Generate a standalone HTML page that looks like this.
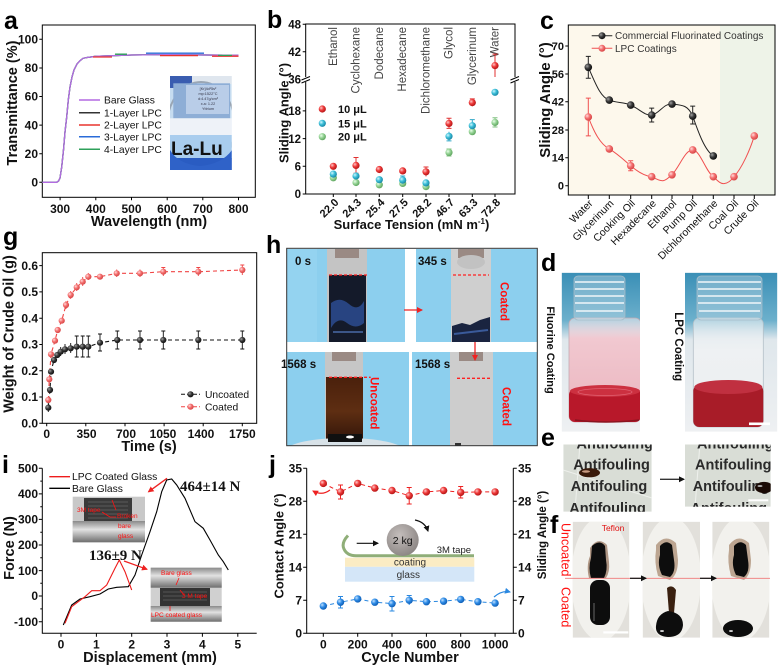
<!DOCTYPE html>
<html><head><meta charset="utf-8">
<style>
html,body{margin:0;padding:0;background:#fff;}
svg{display:block;}
text{font-family:"Liberation Sans",Arial,sans-serif;}
.tk{font-size:12px;font-weight:bold;fill:#111;}
.tkb{font-size:11.5px;font-weight:bold;fill:#111;}
.tkc{font-size:11px;font-weight:bold;fill:#111;}
.ti{font-size:14.5px;font-weight:bold;fill:#111;}
.pl{font-size:25px;font-weight:bold;fill:#000;}
.lg{font-size:10.3px;fill:#111;}
.serif{font-family:"Liberation Serif","Times New Roman",serif;}
</style></head>
<body>
<svg width="779" height="668" viewBox="0 0 779 668" xmlns="http://www.w3.org/2000/svg">
<defs>
<radialGradient id="sR" cx="35%" cy="35%" r="65%"><stop offset="0" stop-color="#ffc8c8"/><stop offset="0.5" stop-color="#ee3a3a"/><stop offset="1" stop-color="#b81818"/></radialGradient>
<radialGradient id="sC" cx="35%" cy="35%" r="65%"><stop offset="0" stop-color="#d0f6ff"/><stop offset="0.5" stop-color="#3cbfd8"/><stop offset="1" stop-color="#1c8aa8"/></radialGradient>
<radialGradient id="sG" cx="35%" cy="35%" r="65%"><stop offset="0" stop-color="#eaffea"/><stop offset="0.5" stop-color="#96d496"/><stop offset="1" stop-color="#62a862"/></radialGradient>
<radialGradient id="sK" cx="35%" cy="35%" r="65%"><stop offset="0" stop-color="#a0a0a0"/><stop offset="0.5" stop-color="#3a3a3a"/><stop offset="1" stop-color="#111"/></radialGradient>
<radialGradient id="sP" cx="35%" cy="35%" r="65%"><stop offset="0" stop-color="#ffdcdc"/><stop offset="0.5" stop-color="#f47070"/><stop offset="1" stop-color="#d84848"/></radialGradient>
<radialGradient id="sB" cx="35%" cy="35%" r="65%"><stop offset="0" stop-color="#c0e0ff"/><stop offset="0.5" stop-color="#2f8ce6"/><stop offset="1" stop-color="#1060b8"/></radialGradient>
<radialGradient id="sW" cx="40%" cy="35%" r="70%"><stop offset="0" stop-color="#c4bebc"/><stop offset="1" stop-color="#8a8482"/></radialGradient>
<linearGradient id="brown" x1="0" y1="0" x2="0" y2="1"><stop offset="0" stop-color="#4a200c"/><stop offset="0.5" stop-color="#5e2e12"/><stop offset="1" stop-color="#2a1008"/></linearGradient>
<linearGradient id="teal" x1="0" y1="0" x2="0" y2="1"><stop offset="0" stop-color="#3a8fb6"/><stop offset="0.3" stop-color="#6cb0cc"/><stop offset="0.42" stop-color="#dfe7ec"/><stop offset="1" stop-color="#eef0f2"/></linearGradient>
<linearGradient id="pink" x1="0" y1="0" x2="0" y2="1"><stop offset="0" stop-color="#e4e8ee" stop-opacity="0.6"/><stop offset="0.2" stop-color="#f1c8d0"/><stop offset="1" stop-color="#eab4be"/></linearGradient>
<linearGradient id="clear" x1="0" y1="0" x2="0" y2="1"><stop offset="0" stop-color="#e4ecf0" stop-opacity="0.6"/><stop offset="0.3" stop-color="#eef1f3"/><stop offset="1" stop-color="#ebeef0"/></linearGradient>
<linearGradient id="metal" x1="0" y1="0" x2="0" y2="1"><stop offset="0" stop-color="#8a8a8a"/><stop offset="0.4" stop-color="#e2e2e2"/><stop offset="1" stop-color="#6e6e6e"/></linearGradient>
<marker id="ahR" markerWidth="6" markerHeight="6" refX="5" refY="3" orient="auto" markerUnits="userSpaceOnUse"><path d="M0,0 L6,3 L0,6z" fill="#ee2222"/></marker>
<marker id="ahK" markerWidth="6" markerHeight="6" refX="5" refY="3" orient="auto" markerUnits="userSpaceOnUse"><path d="M0,0 L6,3 L0,6z" fill="#111"/></marker>
<marker id="ahB" markerWidth="6" markerHeight="6" refX="5" refY="3" orient="auto" markerUnits="userSpaceOnUse"><path d="M0,0 L6,3 L0,6z" fill="#2a88e0"/></marker>
<clipPath id="cA"><rect x="170" y="76" width="61.7" height="94"/></clipPath>
<clipPath id="cE1"><rect x="563.3" y="444.5" width="88.4" height="67.2"/></clipPath>
<clipPath id="cE2"><rect x="685" y="444.5" width="85.7" height="62.2"/></clipPath>
<clipPath id="cBL"><rect x="287" y="352" width="122" height="94"/></clipPath>
<clipPath id="cF1"><rect x="572.7" y="521.7" width="56.6" height="116"/></clipPath>
<clipPath id="cF2"><rect x="642.7" y="521.7" width="57.3" height="116"/></clipPath>
<clipPath id="cF3"><rect x="712.3" y="521.7" width="57" height="116"/></clipPath>
<clipPath id="cD1"><rect x="561.7" y="272.7" width="78.3" height="159"/></clipPath>
<clipPath id="cD2"><rect x="685" y="272.7" width="92.3" height="159"/></clipPath>
</defs>

<!-- ================= PANEL A ================= -->
<text class="pl" x="4" y="29">a</text>
<rect x="42.3" y="25" width="213" height="172.3" fill="none" stroke="#000" stroke-width="1"/>
<g stroke="#000" stroke-width="1">
<path d="M39.3,39.3h3 M39.3,68h3 M39.3,96.5h3 M39.3,125.1h3 M39.3,153.7h3 M39.3,182.3h3"/>
<path d="M60.1,197.3v3 M95.8,197.3v3 M131.5,197.3v3 M167.2,197.3v3 M202.8,197.3v3 M238.5,197.3v3"/>
</g>
<g class="tk" text-anchor="end">
<text x="38" y="43.5">100</text><text x="38" y="72.2">80</text><text x="38" y="100.7">60</text><text x="38" y="129.3">40</text><text x="38" y="157.9">20</text><text x="38" y="186.5">0</text>
</g>
<g class="tk" text-anchor="middle">
<text x="60.1" y="213">300</text><text x="95.8" y="213">400</text><text x="131.5" y="213">500</text><text x="167.2" y="213">600</text><text x="202.8" y="213">700</text><text x="238.5" y="213">800</text>
</g>
<text class="ti" x="149" y="226" text-anchor="middle">Wavelength (nm)</text>
<text class="ti" transform="translate(17,103) rotate(-90)" text-anchor="middle">Transmittance (%)</text>
<g fill="none" stroke-width="1.3">
<polyline stroke="#333" points="42.3,182.3 56.6,182.3 58.5,181 60,178 61.7,167 63.5,150 65,132 66.7,117 68.3,100 70,87 72,77 74,70 77,64 80,60.7 83,58.3 87,57.5 95.8,56.3 131.5,55 167.2,54.6 238.5,55.3"/>
<polyline stroke="#2ea05a" points="42.3,182.3 56.6,182.3 58.5,181 60,178 61.7,167 63.5,150 65,132 66.7,117 68.3,100 70,87 72,77 74,70 77,64 80,60.7 83,58.3 87,57.5 95.8,56.3 131.5,55 167.2,54.6 238.5,55.3"/>
<polyline stroke="#b36ae2" points="42.3,182.3 56.6,182.3 58.5,181 60,178 61.7,167 63.5,150 65,132 66.7,117 68.3,100 70,87 72,77 74,70 77,64 80,60.7 83,58.3 87,57.5 95.8,56.3 131.5,55 167.2,54.6 238.5,55.3"/>
<path stroke="#e8352e" d="M93,57 H112 M160,55.6 H198 M212,56.2 H238.5"/>
<path stroke="#2ea05a" d="M115,54.2 H127 M218,55.4 H232"/>
<path stroke="#2a6bd8" d="M146,53.2 H204"/>
</g>
<g stroke-width="1.5">
<line x1="79" y1="100" x2="100" y2="100" stroke="#b36ae2"/>
<line x1="79" y1="112.7" x2="100" y2="112.7" stroke="#333"/>
<line x1="79" y1="125" x2="100" y2="125" stroke="#e8352e"/>
<line x1="79" y1="136.7" x2="100" y2="136.7" stroke="#2a6bd8"/>
<line x1="79" y1="149.3" x2="100" y2="149.3" stroke="#2ea05a"/>
</g>
<g class="lg" font-size="10.5">
<text x="104" y="103.7">Bare Glass</text><text x="104" y="116.4">1-Layer LPC</text><text x="104" y="128.7">2-Layer LPC</text><text x="104" y="140.4">3-Layer LPC</text><text x="104" y="153">4-Layer LPC</text>
</g>
<g clip-path="url(#cA)">
<rect x="170" y="76" width="61.7" height="94" fill="#c6dcf0"/>
<rect x="170" y="76" width="22" height="12" fill="#3a5db0"/>
<rect x="192" y="76" width="40" height="8" fill="#dfe6ee"/>
<ellipse cx="201" cy="126" rx="34" ry="44" fill="none" stroke="#9aa6b4" stroke-width="2"/>
<rect x="173.3" y="83.3" width="56.7" height="35" fill="#8eaed6"/>
<rect x="186" y="85" width="43" height="29" fill="#b9cde8"/>
<g font-size="3.8" fill="#334" text-anchor="middle">
<text x="208" y="90">[Kr]4d¹5s²</text><text x="208" y="95">mp:1522°C</text><text x="208" y="100">d:4.47g/cm³</text><text x="208" y="105">x.a: 1.22</text><text x="208" y="110">Yttrium</text>
</g>
<rect x="170" y="118.3" width="62" height="17" fill="#eef2f8"/>
<rect x="170" y="135" width="62" height="24" fill="#a9cdee"/>
<text x="171" y="155" font-size="19" font-weight="bold" fill="#111">La-Lu</text>
<rect x="170" y="158" width="62" height="12" fill="#2a5cc2"/>
<path d="M170,150 Q178,164 200,166 Q222,164 232,150 V170 H170z" fill="#2f62c8"/>
</g>

<!-- ================= PANEL B ================= -->
<text class="pl" x="267" y="28">b</text>
<rect x="305.7" y="24" width="209.3" height="170" fill="none" stroke="#000" stroke-width="1"/>
<g stroke="#000" stroke-width="1">
<path d="M302.7,24.3h3 M302.7,51.8h3 M302.7,79.3h3 M302.7,110.9h3 M302.7,138.6h3 M302.7,166.3h3 M302.7,194h3"/>
<path d="M333.3,194v3 M356,194v3 M379.3,194v3 M402.7,194v3 M426,194v3 M449,194v3 M472.3,194v3 M495,194v3"/>
</g>
<rect x="302" y="77" width="8" height="5" fill="#fff"/>
<rect x="511" y="77" width="8" height="5" fill="#fff"/>
<path d="M301.5,80 L310,76.5 M301.5,83 L310,79.5 M510.5,80 L519,76.5 M510.5,83 L519,79.5" stroke="#000" stroke-width="1"/>
<g class="tkb" text-anchor="end">
<text x="301" y="28.5">48</text><text x="301" y="56">42</text><text x="301" y="83.5">36</text><text x="301" y="115">18</text><text x="301" y="142.8">12</text><text x="301" y="170.5">6</text><text x="301" y="198">0</text>
</g>
<g class="tkc" text-anchor="end">
<text transform="translate(339.3,203) rotate(-45)">22.0</text>
<text transform="translate(362,203) rotate(-45)">24.3</text>
<text transform="translate(385.3,203) rotate(-45)">25.4</text>
<text transform="translate(408.7,203) rotate(-45)">27.5</text>
<text transform="translate(432,203) rotate(-45)">28.2</text>
<text transform="translate(455,203) rotate(-45)">46.7</text>
<text transform="translate(478.3,203) rotate(-45)">63.3</text>
<text transform="translate(501,203) rotate(-45)">72.8</text>
</g>
<text x="411.5" y="229" text-anchor="middle" font-size="13" font-weight="bold" fill="#111">Surface Tension (mN m<tspan dy="-5" font-size="8">-1</tspan><tspan dy="5">)</tspan></text>
<text transform="translate(288.5,113) rotate(-90)" text-anchor="middle" font-size="13" font-weight="bold" fill="#111">Sliding Angle (°)</text>
<g font-size="11.5" fill="#444" text-anchor="end">
<text transform="translate(336.8,27) rotate(-90)">Ethanol</text>
<text transform="translate(359.5,27) rotate(-90)">Cyclohexane</text>
<text transform="translate(382.8,27) rotate(-90)">Dodecane</text>
<text transform="translate(406.2,27) rotate(-90)">Hexadecane</text>
<text transform="translate(429.5,27) rotate(-90)">Dichloromethane</text>
<text transform="translate(452.5,27) rotate(-90)">Glycol</text>
<text transform="translate(475.8,27) rotate(-90)">Glycerinum</text>
<text transform="translate(498.5,27) rotate(-90)">Water</text>
</g>
<g stroke-width="1" fill="none">
<path stroke="#e03030" d="M356,157.5V173.2 M353.5,157.5h5 M353.5,173.2h5 M426,167V176.4 M423.5,167h5 M449,118.3V128.4 M446.5,118.3h5 M446.5,128.4h5 M472.3,98.9V106.3 M469.8,98.9h5 M495,54.1V77 M492.5,54.1h5"/>
<path stroke="#30a8c8" d="M402.7,176V184 M400.2,176h5 M449,131.7V140.9 M446.5,140.9h5 M472.3,119.6V131.7 M469.8,119.6h5"/>
<path stroke="#80c080" d="M449,149V156 M446.5,149h5 M446.5,156h5 M495,117.8V127 M492.5,117.8h5 M492.5,127h5"/>
</g>
<g>
<circle cx="333.3" cy="177.8" r="3.6" fill="url(#sG)"/><circle cx="356" cy="182.5" r="3.6" fill="url(#sG)"/><circle cx="379.3" cy="184.8" r="3.6" fill="url(#sG)"/><circle cx="402.7" cy="183.4" r="3.6" fill="url(#sG)"/><circle cx="426" cy="186.6" r="3.6" fill="url(#sG)"/><circle cx="449" cy="152.4" r="3.6" fill="url(#sG)"/><circle cx="472.3" cy="131.7" r="3.6" fill="url(#sG)"/><circle cx="495" cy="122.4" r="3.6" fill="url(#sG)"/>
<circle cx="333.3" cy="174.1" r="3.6" fill="url(#sC)"/><circle cx="356" cy="176" r="3.6" fill="url(#sC)"/><circle cx="379.3" cy="179.7" r="3.6" fill="url(#sC)"/><circle cx="402.7" cy="180.1" r="3.6" fill="url(#sC)"/><circle cx="426" cy="182.9" r="3.6" fill="url(#sC)"/><circle cx="449" cy="136.3" r="3.6" fill="url(#sC)"/><circle cx="472.3" cy="125.7" r="3.6" fill="url(#sC)"/><circle cx="495" cy="92.3" r="3.6" fill="url(#sC)"/>
<circle cx="333.3" cy="166.3" r="3.6" fill="url(#sR)"/><circle cx="356" cy="165.4" r="3.6" fill="url(#sR)"/><circle cx="379.3" cy="169.5" r="3.6" fill="url(#sR)"/><circle cx="402.7" cy="170.9" r="3.6" fill="url(#sR)"/><circle cx="426" cy="171.8" r="3.6" fill="url(#sR)"/><circle cx="449" cy="123.4" r="3.6" fill="url(#sR)"/><circle cx="472.3" cy="102.6" r="3.6" fill="url(#sR)"/><circle cx="495" cy="65.6" r="3.6" fill="url(#sR)"/>
</g>
<circle cx="322.3" cy="109" r="3.6" fill="url(#sR)"/><circle cx="322.3" cy="123.3" r="3.6" fill="url(#sC)"/><circle cx="322.3" cy="136.7" r="3.6" fill="url(#sG)"/>
<g font-size="11" font-weight="bold" fill="#111">
<text x="338" y="113">10 μL</text><text x="338" y="127.3">15 μL</text><text x="338" y="140.7">20 μL</text>
</g>

<!-- ================= PANEL C ================= -->
<text class="pl" x="540" y="29">c</text>
<rect x="568.3" y="25" width="151.7" height="170" fill="#fdf8ec"/>
<rect x="720" y="25" width="55" height="170" fill="#eef3e8"/>
<rect x="568.3" y="25" width="206.7" height="170" fill="none" stroke="#000" stroke-width="1"/>
<g stroke="#000" stroke-width="1">
<path d="M565.3,46h3 M565.3,74h3 M565.3,101.7h3 M565.3,130h3 M565.3,157.7h3 M565.3,185.7h3"/>
<path d="M588.3,195v4 M609.3,195v4 M630.7,195v4 M651.7,195v4 M672,195v4 M692.7,195v4 M713.3,195v4 M734,195v4 M754.3,195v4"/>
</g>
<g class="tkc" text-anchor="end">
<text x="564" y="50">70</text><text x="564" y="78">56</text><text x="564" y="105.7">42</text><text x="564" y="134">28</text><text x="564" y="161.7">14</text><text x="564" y="189.7">0</text>
</g>
<g font-size="10.5" fill="#111" text-anchor="end">
<text transform="translate(593.3,204) rotate(-45)">Water</text>
<text transform="translate(614.3,204) rotate(-45)">Glycerinum</text>
<text transform="translate(635.7,204) rotate(-45)">Cooking Oil</text>
<text transform="translate(656.7,204) rotate(-45)">Hexadecane</text>
<text transform="translate(677,204) rotate(-45)">Ethanol</text>
<text transform="translate(697.7,204) rotate(-45)">Pump Oil</text>
<text transform="translate(718.3,204) rotate(-45)">Dichloromethane</text>
<text transform="translate(739,204) rotate(-45)">Coal Oil</text>
<text transform="translate(759.3,204) rotate(-45)">Crude Oil</text>
</g>
<text transform="translate(550,100) rotate(-90)" text-anchor="middle" font-size="15" font-weight="bold" fill="#111">Sliding Angle (°)</text>
<path fill="none" stroke="#222" stroke-width="1" d="M588.3,67.3 C595,82 600,97 609.3,100.1 C616,103 624,102 630.7,105.1 C638,108 645,116 651.7,115.1 C659,114 664,103 672,104.1 C682,105 688,105 692.7,116.1 C697,128 704,150 713.3,155.9"/>
<path fill="none" stroke="#f05050" stroke-width="1" d="M588.3,117 C594,132 600,144 609.3,148.9 C618,154 624,160 630.7,165.8 C638,172 645,176 651.7,176.7 C656,179 660,181 663,180.8 C667,180 669,177 672,174.8 C680,166 685,150 692.7,149.9 C700,150 706,172 713.3,176.7 C717,180 720,184 724,183.6 C729,183 731,180 734,176.7 C742,168 750,150 754.3,135.95"/>
<path fill="none" stroke="#222" stroke-width="1" d="M588.3,56.4V78.2 M585.8,56.4h5 M585.8,78.2h5 M630.7,102V108 M651.7,108.1V122 M649.2,108.1h5 M649.2,122h5 M692.7,106.1V124 M690.2,106.1h5 M690.2,124h5"/>
<path fill="none" stroke="#f05050" stroke-width="1" d="M588.3,98.1V135.9 M585.8,98.1h5 M585.8,135.9h5 M630.7,160.8V170.8 M628.2,160.8h5 M628.2,170.8h5"/>
<g>
<circle cx="588.3" cy="67.3" r="3.8" fill="url(#sK)"/><circle cx="609.3" cy="100.1" r="3.8" fill="url(#sK)"/><circle cx="630.7" cy="105.1" r="3.8" fill="url(#sK)"/><circle cx="651.7" cy="115.1" r="3.8" fill="url(#sK)"/><circle cx="672" cy="104.1" r="3.8" fill="url(#sK)"/><circle cx="692.7" cy="116.1" r="3.8" fill="url(#sK)"/><circle cx="713.3" cy="155.9" r="3.8" fill="url(#sK)"/>
<circle cx="588.3" cy="117" r="3.8" fill="url(#sP)"/><circle cx="609.3" cy="148.9" r="3.8" fill="url(#sP)"/><circle cx="630.7" cy="165.8" r="3.8" fill="url(#sP)"/><circle cx="651.7" cy="176.7" r="3.8" fill="url(#sP)"/><circle cx="672" cy="174.8" r="3.8" fill="url(#sP)"/><circle cx="692.7" cy="149.9" r="3.8" fill="url(#sP)"/><circle cx="713.3" cy="176.7" r="3.8" fill="url(#sP)"/><circle cx="734" cy="176.7" r="3.8" fill="url(#sP)"/><circle cx="754.3" cy="135.95" r="3.8" fill="url(#sP)"/>
</g>
<line x1="591.7" y1="35.7" x2="612.3" y2="35.7" stroke="#222" stroke-width="1"/><circle cx="602" cy="35.7" r="3.5" fill="url(#sK)"/>
<line x1="591.7" y1="48.3" x2="612.3" y2="48.3" stroke="#f05050" stroke-width="1"/><circle cx="602" cy="48.3" r="3.5" fill="url(#sP)"/>
<g font-size="10" fill="#333">
<text x="615" y="39.2">Commercial Fluorinated Coatings</text><text x="615" y="51.8">LPC Coatings</text>
</g>

<!-- ================= PANEL G ================= -->
<text class="pl" x="3" y="245">g</text>
<rect x="42.3" y="252.7" width="214.4" height="170.6" fill="none" stroke="#000" stroke-width="1"/>
<g stroke="#000" stroke-width="1">
<path d="M39.3,265.6h3 M39.3,291.9h3 M39.3,318.2h3 M39.3,344.5h3 M39.3,370.7h3 M39.3,397h3 M39.3,423.3h3"/>
<path d="M46.7,423.3v3 M85.8,423.3v3 M125,423.3v3 M164.1,423.3v3 M203.2,423.3v3 M242.3,423.3v3"/>
</g>
<g class="tk" text-anchor="end">
<text x="38" y="269.8">0.6</text><text x="38" y="296.1">0.5</text><text x="38" y="322.4">0.4</text><text x="38" y="348.7">0.3</text><text x="38" y="374.9">0.2</text><text x="38" y="401.2">0.1</text><text x="38" y="427.5">0.0</text>
</g>
<g class="tk" text-anchor="middle">
<text x="46.7" y="438">0</text><text x="86.5" y="438">350</text><text x="126" y="438">700</text><text x="163" y="438">1050</text><text x="201" y="438">1400</text><text x="242.3" y="438">1750</text>
</g>
<text class="ti" x="149" y="451" text-anchor="middle">Time (s)</text>
<text class="ti" transform="translate(13.5,334) rotate(-90)" text-anchor="middle">Weight of Crude Oil (g)</text>
<polyline fill="none" stroke="#111" stroke-width="1.1" stroke-dasharray="4,3" points="48.3,407.7 50,390 51,371.7 54,360 57.3,355 60.7,351.7 65,349.3 70.7,348.3 76.7,346.7 82.7,346.7 88.3,346.7 100,342.7 117.3,340 140,340 163.3,340 198.3,340 242.3,340"/>
<polyline fill="none" stroke="#f04545" stroke-width="1.1" stroke-dasharray="4,3" points="48.3,400 49.3,379.3 51,354.3 55,340.7 57.7,330 61.7,320.7 66,305 70.7,295 76.7,287.3 82.7,281.7 88.3,276.7 100,276.7 116.7,273.3 140,273.3 163.3,271.7 198.3,271.7 242.3,270"/>
<path fill="none" stroke="#111" stroke-width="0.9" d="M48.3,403V412 M60.7,347V356 M65,344V354 M70.7,343V353 M76.7,336V357 M74.7,336h4 M74.7,357h4 M82.7,336V357 M80.7,336h4 M80.7,357h4 M88.3,336V357 M86.3,336h4 M86.3,357h4 M100,334V351 M98,334h4 M98,351h4 M117.3,331V349 M115.3,331h4 M115.3,349h4 M140,331V349 M138,331h4 M138,349h4 M163.3,331V349 M161.3,331h4 M161.3,349h4 M198.3,331V349 M196.3,331h4 M196.3,349h4 M242.3,331V349 M240.3,331h4 M240.3,349h4"/>
<path fill="none" stroke="#f04545" stroke-width="0.9" d="M66,301V309 M70.7,291V299 M76.7,283V291 M82.7,277V286 M88.3,273V280 M116.7,269.5V277 M140,269.5V277 M163.3,267.5V276 M161.3,267.5h4 M198.3,267.5V276 M196.3,267.5h4 M242.3,265V275 M240.3,265h4"/>
<g>
<circle cx="48.3" cy="400" r="3.1" fill="url(#sP)"/><circle cx="49.3" cy="379.3" r="3.1" fill="url(#sP)"/><circle cx="51" cy="354.3" r="3.1" fill="url(#sP)"/><circle cx="55" cy="340.7" r="3.1" fill="url(#sP)"/><circle cx="57.7" cy="330" r="3.1" fill="url(#sP)"/><circle cx="61.7" cy="320.7" r="3.1" fill="url(#sP)"/><circle cx="66" cy="305" r="3.1" fill="url(#sP)"/><circle cx="70.7" cy="295" r="3.1" fill="url(#sP)"/><circle cx="76.7" cy="287.3" r="3.1" fill="url(#sP)"/><circle cx="82.7" cy="281.7" r="3.1" fill="url(#sP)"/><circle cx="88.3" cy="276.7" r="3.1" fill="url(#sP)"/><circle cx="100" cy="276.7" r="3.1" fill="url(#sP)"/><circle cx="116.7" cy="273.3" r="3.1" fill="url(#sP)"/><circle cx="140" cy="273.3" r="3.1" fill="url(#sP)"/><circle cx="163.3" cy="271.7" r="3.1" fill="url(#sP)"/><circle cx="198.3" cy="271.7" r="3.1" fill="url(#sP)"/><circle cx="242.3" cy="270" r="3.1" fill="url(#sP)"/>
<circle cx="48.3" cy="407.7" r="3.1" fill="url(#sK)"/><circle cx="50" cy="390" r="3.1" fill="url(#sK)"/><circle cx="51" cy="371.7" r="3.1" fill="url(#sK)"/><circle cx="54" cy="360" r="3.1" fill="url(#sK)"/><circle cx="57.3" cy="355" r="3.1" fill="url(#sK)"/><circle cx="60.7" cy="351.7" r="3.1" fill="url(#sK)"/><circle cx="65" cy="349.3" r="3.1" fill="url(#sK)"/><circle cx="70.7" cy="348.3" r="3.1" fill="url(#sK)"/><circle cx="76.7" cy="346.7" r="3.1" fill="url(#sK)"/><circle cx="82.7" cy="346.7" r="3.1" fill="url(#sK)"/><circle cx="88.3" cy="346.7" r="3.1" fill="url(#sK)"/><circle cx="100" cy="342.7" r="3.1" fill="url(#sK)"/><circle cx="117.3" cy="340" r="3.1" fill="url(#sK)"/><circle cx="140" cy="340" r="3.1" fill="url(#sK)"/><circle cx="163.3" cy="340" r="3.1" fill="url(#sK)"/><circle cx="198.3" cy="340" r="3.1" fill="url(#sK)"/><circle cx="242.3" cy="340" r="3.1" fill="url(#sK)"/>
</g>
<line x1="181" y1="394.3" x2="200" y2="394.3" stroke="#111" stroke-dasharray="4,2"/><circle cx="190.5" cy="394.3" r="3.1" fill="url(#sK)"/>
<line x1="181" y1="406.7" x2="200" y2="406.7" stroke="#f04545" stroke-dasharray="4,2"/><circle cx="190.5" cy="406.7" r="3.1" fill="url(#sP)"/>
<g class="lg"><text x="205" y="398">Uncoated</text><text x="205" y="410.4">Coated</text></g>

<!-- ================= PANEL H ================= -->
<text class="pl" x="266" y="253">h</text>
<!-- TL -->
<rect x="287" y="249" width="118" height="93" fill="#8ccfee"/>
<rect x="287" y="249" width="30" height="93" fill="#94d3f0"/>
<rect x="327" y="249" width="40" height="93" fill="#c4c4c4"/>
<rect x="335" y="249" width="24" height="9" fill="#9a8a84"/>
<rect x="329" y="275" width="37" height="67" fill="#141a2a"/>
<path d="M331,303 q9,-7 18,1 t15,-3 v22 q-8,7 -17,0 t-16,5z" fill="#2c4c90" opacity="0.85"/>
<path d="M333,332 h30" stroke="#4a6aa8" stroke-width="1.5"/>
<line x1="329" y1="275" x2="367" y2="275" stroke="#ff2020" stroke-width="1.3" stroke-dasharray="3,2"/>
<!-- TR -->
<rect x="416" y="249" width="121" height="93" fill="#8ccfee"/>
<rect x="451" y="249" width="40" height="93" fill="#cfcfcf"/>
<rect x="458" y="249" width="26" height="9" fill="#9a8a84"/>
<ellipse cx="471" cy="262" rx="14" ry="7" fill="#c2c2c2"/>
<path d="M452,342 L452,326 L462,323 L470,325 L480,320 L490,317 L490,342z" fill="#1a2440"/>
<path d="M454,334 L488,330" stroke="#3a5a9a" stroke-width="2"/>
<line x1="453" y1="275" x2="489" y2="275" stroke="#ff2020" stroke-width="1.3" stroke-dasharray="3,2"/>
<text transform="translate(500.5,282) rotate(90)" font-size="11.5" font-weight="bold" fill="#ff1010">Coated</text>
<!-- BL -->
<g clip-path="url(#cBL)">
<rect x="287" y="352" width="122" height="94" fill="#8ccfee"/>
<rect x="325" y="352" width="38" height="94" fill="#c6c6c6"/>
<rect x="332" y="352" width="24" height="9" fill="#9a8a84"/>
<rect x="326" y="377" width="37" height="69" fill="url(#brown)"/>
<ellipse cx="345" cy="450" rx="58" ry="12" fill="#d8e2e8"/>
<rect x="328" y="434" width="34" height="8" fill="#101010"/>
<ellipse cx="350" cy="437" rx="4" ry="1.5" fill="#fff"/>
</g>
<line x1="329" y1="377.3" x2="370.7" y2="377.3" stroke="#ff2020" stroke-width="1.3" stroke-dasharray="3,2"/>
<text transform="translate(370.5,377) rotate(90)" font-size="11.5" font-weight="bold" fill="#ff1010">Uncoated</text>
<!-- BR -->
<rect x="412" y="352" width="125" height="94" fill="#8ccfee"/>
<rect x="450" y="352" width="43" height="94" fill="#cdcdcd"/>
<rect x="459" y="352" width="24" height="9" fill="#9a8a84"/>
<rect x="455" y="443" width="6" height="3" fill="#333"/>
<line x1="457" y1="378.3" x2="492" y2="378.3" stroke="#ff2020" stroke-width="1.3" stroke-dasharray="3,2"/>
<text transform="translate(502.5,387) rotate(90)" font-size="11.5" font-weight="bold" fill="#ff1010">Coated</text>
<rect x="286.7" y="248.3" width="250.6" height="197.4" fill="none" stroke="#333" stroke-width="1"/>
<g font-size="11.5" font-weight="bold" fill="#111">
<text x="295" y="265">0 s</text><text x="418" y="265">345 s</text><text x="281" y="368">1568 s</text><text x="415" y="368">1568 s</text>
</g>
<line x1="404" y1="310" x2="422" y2="310" stroke="#ee2222" stroke-width="1.3" marker-end="url(#ahR)"/>
<line x1="475" y1="342" x2="475" y2="360" stroke="#ee2222" stroke-width="1.3" marker-end="url(#ahR)"/>

<!-- ================= PANEL D ================= -->
<text class="pl" x="541" y="271">d</text>
<g clip-path="url(#cD1)">
<rect x="561.7" y="272.7" width="78.3" height="159" fill="url(#teal)"/>
<rect x="569" y="318" width="72" height="104" rx="6" fill="url(#pink)" stroke="#c4aab2" stroke-width="0.8"/>
<rect x="569" y="389" width="72" height="33" rx="6" fill="#b8182a"/>
<ellipse cx="605" cy="391" rx="35" ry="6" fill="#cc3040"/>
<ellipse cx="605" cy="392" rx="27" ry="3.5" fill="none" stroke="#e06070" stroke-width="0.8"/>
<path d="M575,420 Q605,424 639,420" stroke="#8a1420" stroke-width="1.5" fill="none"/>
<rect x="574" y="276" width="51" height="44" rx="4" fill="#d8e6ee" fill-opacity="0.35" stroke="#a8bcc8" stroke-width="0.8"/>
<path d="M575,282h49 M575,289h49 M575,296h49 M575,303h49 M576,311h47" stroke="#f2f7fa" stroke-width="1.8" opacity="0.85"/>
</g>
<g clip-path="url(#cD2)">
<rect x="685" y="272.7" width="92.3" height="159" fill="url(#teal)"/>
<rect x="693.3" y="318" width="70" height="109" rx="6" fill="url(#clear)" stroke="#b4c0c8" stroke-width="0.8"/>
<rect x="693.3" y="385" width="70" height="42" rx="6" fill="#a81c28"/>
<ellipse cx="728.3" cy="387" rx="34" ry="7" fill="#c03040"/>
<rect x="697" y="276" width="65" height="44" rx="4" fill="#d8e6ee" fill-opacity="0.35" stroke="#a8bcc8" stroke-width="0.8"/>
<path d="M698,282h63 M698,289h63 M698,296h63 M698,303h63 M699,311h61" stroke="#f2f7fa" stroke-width="1.8" opacity="0.85"/>
<rect x="749" y="422.5" width="21" height="2.6" fill="#fff"/>
</g>
<text transform="translate(547,350) rotate(90)" text-anchor="middle" font-size="11" font-weight="bold" fill="#111">Fluorine Coating</text>
<text transform="translate(675,346.7) rotate(90)" text-anchor="middle" font-size="11.5" font-weight="bold" fill="#111">LPC Coating</text>

<!-- ================= PANEL E ================= -->
<text class="pl" x="541" y="446">e</text>
<g clip-path="url(#cE1)">
<rect x="563.3" y="443.5" width="88.4" height="68.2" fill="#d9ddd6"/>
<path d="M580,443 L575,511 M563,470 L652,498" stroke="#eef0ec" stroke-width="1"/>
<g font-size="14.5" font-weight="bold" fill="#2a2a2a">
<text x="576.5" y="448.5">Antifouling</text><text x="573.3" y="469.3">Antifouling</text><text x="570.7" y="491">Antifouling</text><text x="569.3" y="513">Antifouling</text>
</g>
<ellipse cx="589.5" cy="472.7" rx="10.5" ry="4.6" fill="#3a1a0a"/>
<ellipse cx="586" cy="471.5" rx="4" ry="1.2" fill="#c89a80"/>
</g>
<g clip-path="url(#cE2)">
<rect x="685" y="443.5" width="85.7" height="63.2" fill="#d9ddd6"/>
<path d="M700,443 L695,507" stroke="#eef0ec" stroke-width="1"/>
<g font-size="14.5" font-weight="bold" fill="#2a2a2a">
<text x="697" y="448.5">Antifouling</text><text x="695" y="469.3">Antifouling</text><text x="692.7" y="491">Antifouling</text><text x="690.5" y="513">Antifouling</text>
</g>
<ellipse cx="764" cy="487.5" rx="9" ry="5.6" fill="#1a0a04"/>
<ellipse cx="760" cy="486" rx="2.5" ry="1" fill="#aaa"/>
<rect x="748.3" y="499.3" width="20" height="2" fill="#fff"/>
</g>
<line x1="660" y1="479.3" x2="684" y2="479.3" stroke="#333" stroke-width="1.4" marker-end="url(#ahK)"/>

<!-- ================= PANEL F ================= -->
<text class="pl" x="550" y="533">f</text>
<g clip-path="url(#cF1)">
<rect x="572.7" y="521.7" width="56.6" height="116" fill="#e2e0db"/>
<ellipse cx="601" cy="579" rx="30" ry="62" fill="#f2f1ed"/>
<path d="M590,548 Q598,536 607,545 L609,562 Q610,572 606,578 L589,578 Q586,566 590,556z" fill="#6a3a1a" opacity="0.5"/>
<path d="M592,546 Q600,539 605,546 L606,560 Q608,570 604,578 L591,578 Q588,568 591,558z" fill="#0d0d0d"/>
<rect x="590" y="580" width="20" height="45" rx="8" fill="#0d0d0d"/>
<path d="M594,603 v18" stroke="#666" stroke-width="1"/>
<rect x="603.3" y="631.3" width="25" height="2.2" fill="#fff"/>
</g>
<g clip-path="url(#cF2)">
<rect x="642.7" y="521.7" width="57.3" height="116" fill="#e2e0db"/>
<ellipse cx="671" cy="579" rx="30" ry="62" fill="#f2f1ed"/>
<path d="M656,545 Q665,533 676,543 L678,560 Q678,575 670,580 L658,576 Q654,562 656,550z" fill="#7a4a22" opacity="0.45"/>
<path d="M660,546 Q666,539 672,545 L674,560 Q676,572 670,577 L662,575 Q657,565 660,555z" fill="#0d0d0d"/>
<path d="M667,588 Q672,584 676,590 L674,613 L669,613z" fill="#3a2010"/>
<path d="M668,611 Q683,613 683,625 Q682,637 668,637 Q655,636 656,626 Q657,614 668,611z" fill="#0d0d0d"/>
<ellipse cx="662" cy="631" rx="2" ry="1" fill="#ccc"/>
</g>
<g clip-path="url(#cF3)">
<rect x="712.3" y="521.7" width="57" height="116" fill="#e2e0db"/>
<ellipse cx="741" cy="579" rx="30" ry="62" fill="#f2f1ed"/>
<path d="M729,545 Q738,533 749,543 L751,560 Q751,575 744,580 L731,576 Q727,562 729,550z" fill="#7a4a22" opacity="0.45"/>
<path d="M734,546 Q740,539 746,545 L748,560 Q750,572 744,577 L736,575 Q731,565 734,555z" fill="#0d0d0d"/>
<ellipse cx="738" cy="628.5" rx="15" ry="8.5" fill="#0d0d0d"/>
<ellipse cx="731" cy="631" rx="2" ry="1" fill="#ccc"/>
</g>
<line x1="565" y1="578.3" x2="770" y2="578.3" stroke="#f07878" stroke-width="0.8"/>
<line x1="630" y1="578.3" x2="646" y2="578.3" stroke="#111" stroke-width="1.2" marker-end="url(#ahK)"/>
<line x1="700" y1="578.3" x2="716" y2="578.3" stroke="#111" stroke-width="1.2" marker-end="url(#ahK)"/>
<text x="601.7" y="531" font-size="8.5" fill="#e01010">Teflon</text>
<text transform="translate(561.7,523) rotate(90)" font-size="12.5" fill="#ff1010">Uncoated</text>
<text transform="translate(561.7,587) rotate(90)" font-size="12.5" fill="#ff1010">Coated</text>

<!-- ================= PANEL I ================= -->
<text class="pl" x="2" y="473">i</text>
<path d="M42.3,468.3 V633.3 H256.7" fill="none" stroke="#000" stroke-width="1"/>
<g stroke="#000" stroke-width="1">
<path d="M38.8,468.3h3.5 M38.8,493.9h3.5 M38.8,519.4h3.5 M38.8,545h3.5 M38.8,570.6h3.5 M38.8,596h3.5 M38.8,621.7h3.5"/>
<path d="M40.3,481.1h2 M40.3,506.7h2 M40.3,532.2h2 M40.3,557.8h2 M40.3,583.3h2 M40.3,608.9h2"/>
<path d="M61,633.3v3.5 M96.4,633.3v3.5 M131.7,633.3v3.5 M167,633.3v3.5 M202.4,633.3v3.5 M237.8,633.3v3.5"/>
</g>
<g class="tk" text-anchor="end">
<text x="38" y="472.5">500</text><text x="38" y="498">400</text><text x="38" y="523.5">300</text><text x="38" y="549">200</text><text x="38" y="574.8">100</text><text x="38" y="600">0</text><text x="38" y="625.8">-100</text>
</g>
<g class="tk" text-anchor="middle">
<text x="61" y="648.5">0</text><text x="96.4" y="648.5">1</text><text x="131.7" y="648.5">2</text><text x="167" y="648.5">3</text><text x="202.4" y="648.5">4</text><text x="237.8" y="648.5">5</text>
</g>
<text class="ti" x="150" y="662" text-anchor="middle">Displacement (mm)</text>
<text class="ti" transform="translate(14,548) rotate(-90)" text-anchor="middle">Force (N)</text>
<polyline fill="none" stroke="#000" stroke-width="1.1" points="63.3,625 71.7,605 80,599 90,596.7 100,594 108.3,589 116.7,587.3 128.3,586.7 135,575 141.7,555 150,531.7 156.7,511.7 161.7,491.7 166.7,480 171.7,479 176.7,485 185,498.3 195,521.7 203.3,528.3 210,540 218.3,555 223.3,561.7 228.3,570"/>
<polyline fill="none" stroke="#ee1c1c" stroke-width="1.1" points="65,623.3 71.7,606.7 78.3,601.7 85,596.7 91.7,590.7 100,590.7 106.7,585 115,568.3 119.3,560 125,571.7 131.7,590"/>
<line x1="49.3" y1="476.7" x2="70" y2="476.7" stroke="#ee1c1c" stroke-width="1.3"/>
<line x1="49.3" y1="488.3" x2="70" y2="488.3" stroke="#000" stroke-width="1.3"/>
<g class="lg"><text x="72" y="480.2">LPC Coated Glass</text><text x="72" y="491.8">Bare Glass</text></g>
<text class="serif" x="180" y="491" font-size="15" font-weight="bold" fill="#111">464±14 N</text>
<text class="serif" x="89" y="560" font-size="15" font-weight="bold" fill="#111">136±9 N</text>
<line x1="167" y1="478.3" x2="148.5" y2="491.8" stroke="#ee2222" stroke-width="1.3" marker-end="url(#ahR)"/>
<line x1="124" y1="561" x2="147" y2="569.3" stroke="#ee2222" stroke-width="1.3" marker-end="url(#ahR)"/>
<!-- inset 1 -->
<rect x="72.7" y="496.7" width="72.3" height="45.6" fill="#c8c8c8"/>
<rect x="84" y="498" width="48" height="23" fill="#3a3a3a"/>
<path d="M88,502h40 M88,506h40 M88,510h40 M88,514h40 M88,518h40" stroke="#5a5a5a" stroke-width="1"/>
<rect x="72.7" y="521" width="72.3" height="21.3" fill="url(#metal)"/>
<g font-size="6.5" fill="#ff1010">
<text x="77" y="512">3M tape</text><text x="117" y="518">Broken</text><text x="118" y="528">bare</text><text x="118" y="538">glass</text>
</g>
<path d="M112,500 L116,510 M102,512 L110,517 M110,517 L116,517" stroke="#ff1010" stroke-width="0.8" fill="none"/>
<!-- inset 2 -->
<rect x="150.7" y="567.7" width="71" height="54" fill="#d0d0d0"/>
<rect x="150.7" y="567.7" width="71" height="20" fill="url(#metal)"/>
<rect x="160" y="588" width="50" height="18" fill="#333"/>
<path d="M163,592h44 M163,596h44 M163,600h44" stroke="#555" stroke-width="1"/>
<rect x="150.7" y="606" width="71" height="15.7" fill="url(#metal)"/>
<g font-size="6.5" fill="#ff1010">
<text x="161" y="575">Bare glass</text><text x="182" y="598">3 M tape</text><text x="151" y="617">LPC coated glass</text>
</g>
<path d="M176,585 L179,578 M180,590 L184,595 M170,606 L170,611" stroke="#ff1010" stroke-width="0.8"/>

<!-- ================= PANEL J ================= -->
<text class="pl" x="269" y="473">j</text>
<path d="M306.7,468.3 V633.3 H513.3 V468.3" fill="none" stroke="#000" stroke-width="1"/>
<g stroke="#000" stroke-width="1">
<path d="M303.2,468.3h3.5 M303.2,501.3h3.5 M303.2,534.3h3.5 M303.2,567.3h3.5 M303.2,600.3h3.5 M303.2,633.3h3.5"/>
<path d="M513.3,468.3h3.5 M513.3,501.3h3.5 M513.3,534.3h3.5 M513.3,567.3h3.5 M513.3,600.3h3.5 M513.3,633.3h3.5"/>
<path d="M323.3,633.3v3.5 M357.7,633.3v3.5 M392,633.3v3.5 M426.4,633.3v3.5 M460.7,633.3v3.5 M495.1,633.3v3.5"/>
</g>
<g class="tk" text-anchor="end">
<text x="302" y="472.5">35</text><text x="302" y="505.5">28</text><text x="302" y="538.5">21</text><text x="302" y="571.5">14</text><text x="302" y="604.5">7</text><text x="302" y="637.5">0</text>
</g>
<g class="tk" text-anchor="start">
<text x="518" y="472.5">35</text><text x="518" y="505.5">28</text><text x="518" y="538.5">21</text><text x="518" y="571.5">14</text><text x="518" y="604.5">7</text><text x="518" y="637.5">0</text>
</g>
<g class="tk" text-anchor="middle">
<text x="323.3" y="648.5">0</text><text x="357.7" y="648.5">200</text><text x="392" y="648.5">400</text><text x="426.4" y="648.5">600</text><text x="460.7" y="648.5">800</text><text x="495.1" y="648.5">1000</text>
</g>
<text class="ti" x="410" y="662" text-anchor="middle">Cycle Number</text>
<text transform="translate(283.5,546) rotate(-90)" text-anchor="middle" font-size="13" font-weight="bold" fill="#111">Contact Angle (°)</text>
<text transform="translate(546,535) rotate(-90)" text-anchor="middle" font-size="11.5" font-weight="bold" fill="#111">Sliding Angle (°)</text>
<!-- inset schematic -->
<rect x="345" y="566.7" width="129.3" height="15" fill="#d4e6f8"/>
<rect x="345" y="557.7" width="129.3" height="9" fill="#fbecc4"/>
<path d="M348,535.5 Q341,543 344,549 Q347,555.7 356,555.7 L474,555.7" fill="none" stroke="#8fae78" stroke-width="3"/>
<circle cx="402.7" cy="540" r="16" fill="url(#sW)"/>
<text x="402.7" y="544" text-anchor="middle" font-size="10.5" fill="#111">2 kg</text>
<text x="436.7" y="553" font-size="9.5" fill="#222">3M tape</text>
<text x="410" y="565.5" text-anchor="middle" font-size="10" fill="#333">coating</text>
<text x="408.3" y="578" text-anchor="middle" font-size="10" fill="#333">glass</text>
<line x1="356.7" y1="543.3" x2="378" y2="543.3" stroke="#111" stroke-width="1.2" marker-end="url(#ahK)"/>
<path d="M415,520 Q425,522 428,531" fill="none" stroke="#111" stroke-width="1.2" marker-end="url(#ahK)"/>
<!-- data -->
<polyline fill="none" stroke="#ee2020" stroke-width="1" stroke-dasharray="4,3" points="323.3,483.4 340.5,491.9 357.7,483.4 374.8,488.1 392,490.5 409.2,495.7 426.4,491.9 443.6,490.5 460.7,492.4 477.9,491.9 495.1,491.9"/>
<polyline fill="none" stroke="#2a88e0" stroke-width="1" stroke-dasharray="4,3" points="323.3,606 340.5,602.2 357.7,598.9 374.8,602.2 392,603.6 409.2,600.3 426.4,601.7 443.6,601.2 460.7,599.4 477.9,601.7 495.1,603.1"/>
<path fill="none" stroke="#ee2020" stroke-width="1" d="M340.5,485V499 M338,485h5 M338,499h5 M409.2,487.5V504 M406.7,487.5h5 M406.7,504h5 M460.7,486.5V498 M458.2,486.5h5 M458.2,498h5"/>
<path fill="none" stroke="#2a88e0" stroke-width="1" d="M340.5,596.5V608 M338,596.5h5 M338,608h5 M392,596.5V611 M389.5,596.5h5 M389.5,611h5 M409.2,595.5V605 M406.7,595.5h5"/>
<g>
<circle cx="323.3" cy="483.4" r="3.7" fill="url(#sR)"/><circle cx="340.5" cy="491.9" r="3.7" fill="url(#sR)"/><circle cx="357.7" cy="483.4" r="3.7" fill="url(#sR)"/><circle cx="374.8" cy="488.1" r="3.7" fill="url(#sR)"/><circle cx="392" cy="490.5" r="3.7" fill="url(#sR)"/><circle cx="409.2" cy="495.7" r="3.7" fill="url(#sR)"/><circle cx="426.4" cy="491.9" r="3.7" fill="url(#sR)"/><circle cx="443.6" cy="490.5" r="3.7" fill="url(#sR)"/><circle cx="460.7" cy="492.4" r="3.7" fill="url(#sR)"/><circle cx="477.9" cy="491.9" r="3.7" fill="url(#sR)"/><circle cx="495.1" cy="491.9" r="3.7" fill="url(#sR)"/>
<circle cx="323.3" cy="606" r="3.7" fill="url(#sB)"/><circle cx="340.5" cy="602.2" r="3.7" fill="url(#sB)"/><circle cx="357.7" cy="598.9" r="3.7" fill="url(#sB)"/><circle cx="374.8" cy="602.2" r="3.7" fill="url(#sB)"/><circle cx="392" cy="603.6" r="3.7" fill="url(#sB)"/><circle cx="409.2" cy="600.3" r="3.7" fill="url(#sB)"/><circle cx="426.4" cy="601.7" r="3.7" fill="url(#sB)"/><circle cx="443.6" cy="601.2" r="3.7" fill="url(#sB)"/><circle cx="460.7" cy="599.4" r="3.7" fill="url(#sB)"/><circle cx="477.9" cy="601.7" r="3.7" fill="url(#sB)"/><circle cx="495.1" cy="603.1" r="3.7" fill="url(#sB)"/>
</g>
<path d="M330,490 Q322,496 313,491" fill="none" stroke="#ee2020" stroke-width="1.2" marker-end="url(#ahR)"/>
<path d="M494,597 Q502,590 510,592" fill="none" stroke="#2a88e0" stroke-width="1.2" marker-end="url(#ahB)"/>
</svg>
</body></html>
